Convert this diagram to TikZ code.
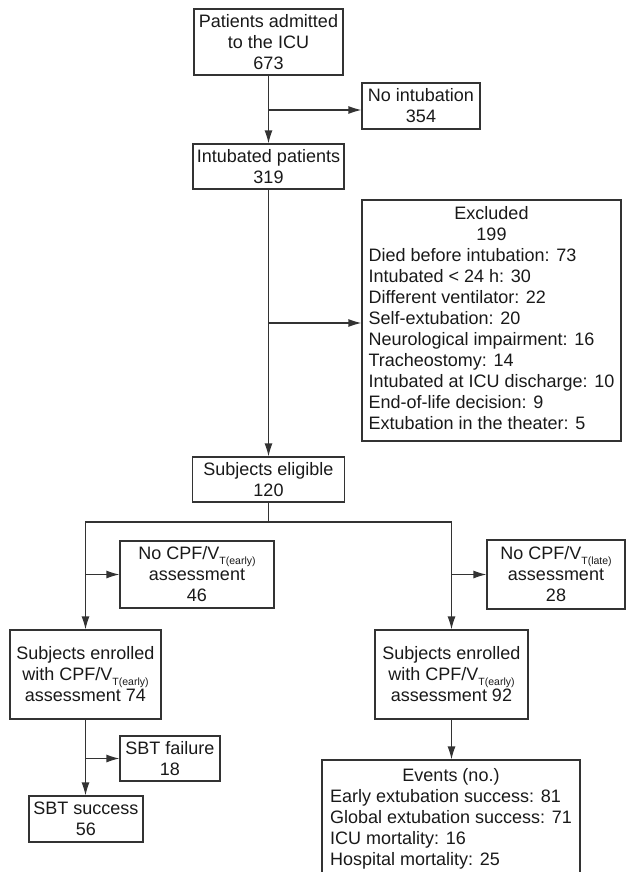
\documentclass[tikz,border=0pt]{standalone}
\usepackage{fontspec}
\setmainfont{Liberation Sans}
\usetikzlibrary{arrows.meta}
\newcommand\vtsub[1]{V\raisebox{-5pt}{\fontsize{10.5}{10.5}\selectfont T(#1)}}
\newcommand\boxfont{\fontsize{18}{21}\selectfont}
\newcommand\midline[1]{\multicolumn{1}{@{}c@{}}{#1}}
\begin{document}
\begin{tikzpicture}[x=1pt,y=1pt,
  box/.style={draw=black!80, line width=1.2pt, inner sep=0pt, align=center, font=\boxfont, text=black!90},
  flow/.style={draw=black!80, line width=1.2pt},
  arr/.style={flow, -{Latex[length=13pt,width=8pt]}}]
\clip (0,0) rectangle (626,-872);
\node[box, minimum width=149, minimum height=66] (adm) at (268.5,-42) {Patients admitted\\to the ICU\\673};
\node[box, minimum width=118, minimum height=46] (noint) at (421,-106) {No intubation\\354};
\node[box, minimum width=151, minimum height=45] (intub) at (268.5,-166.5) {Intubated patients\\319};
\node[box, minimum width=259, minimum height=241] (excl) at (491.5,-320.5) {\begin{tabular}{@{}l@{}}
  \midline{Excluded}\\
  \midline{199}\\
  Died before intubation: 73\\
  Intubated < 24 h: 30\\
  Different ventilator: 22\\
  Self-extubation: 20\\
  Neurological impairment: 16\\
  Tracheostomy: 14\\
  Intubated at ICU discharge: 10\\
  End-of-life decision: 9\\
  Extubation in the theater: 5
\end{tabular}};
\node[box, minimum width=152, minimum height=45] (elig) at (268.5,-479.5) {Subjects eligible\\120};
\node[box, minimum width=154, minimum height=67] (noearly) at (197,-574.5) {No CPF/\vtsub{early}\\assessment\\46};
\node[box, minimum width=138, minimum height=69] (nolate) at (556,-574.5) {No CPF/\vtsub{late}\\assessment\\28};
\node[box, minimum width=151, minimum height=89] (enrA) at (85.5,-674.5) {Subjects enrolled\\with CPF/\vtsub{early}\\assessment 74};
\node[box, minimum width=153, minimum height=89] (enrB) at (451.5,-674.5) {Subjects enrolled\\with CPF/\vtsub{early}\\assessment 92};
\node[box, minimum width=100, minimum height=45] (sbtfail) at (170,-758.5) {SBT failure\\18};
\node[box, minimum width=114, minimum height=46] (sbtok) at (86,-819) {SBT success\\56};
\node[box, minimum width=258, minimum height=118] (events) at (451,-819) {\begin{tabular}{@{}l@{}}
  \midline{Events (no.)}\\
  Early extubation success: 81\\
  Global extubation success: 71\\
  ICU mortality: 16\\
  Hospital mortality: 25
\end{tabular}};

\coordinate (j1) at (268.5,-110);
\coordinate (j2) at (268.5,-323);
\coordinate (split) at (268.5,-522);
\draw[arr] (adm.south) -- (intub.north);
\draw[arr] (j1) -- (j1 -| noint.west);
\draw[arr] (intub.south) -- (elig.north);
\draw[arr] (j2) -- (j2 -| excl.west);
\draw[flow] (elig.south) -- (split);
\draw[arr] (split) -| (enrA.north);
\draw[arr] (split) -| (enrB.north);
\draw[arr] (enrA.north |- noearly.west) -- (noearly.west);
\draw[arr] (enrB.north |- nolate.west) -- (nolate.west);
\draw[arr] (enrA.south) -- (enrA.south |- sbtok.north);
\draw[arr] (enrA.south |- sbtfail.west) -- (sbtfail.west);
\draw[arr] (enrB.south) -- (enrB.south |- events.north);
\end{tikzpicture}
\end{document}
